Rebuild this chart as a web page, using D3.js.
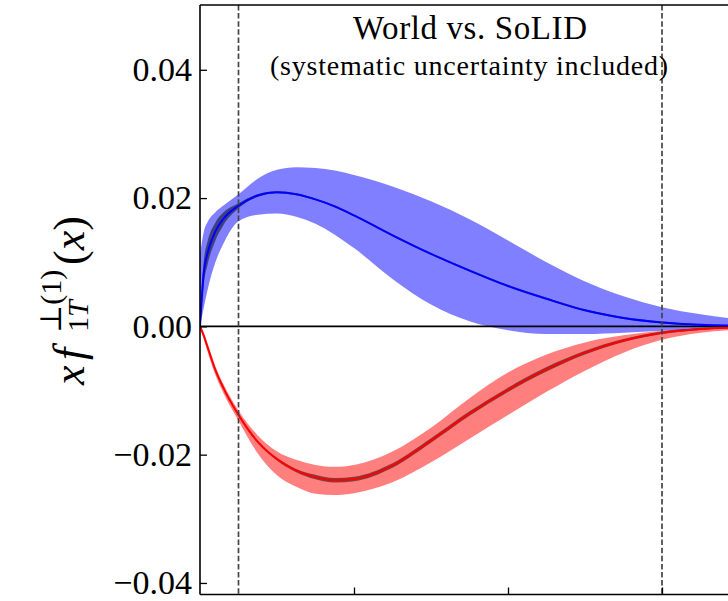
<!DOCTYPE html>
<html>
<head>
<meta charset="utf-8">
<script src="https://cdn.jsdelivr.net/npm/d3@7"></script>
<style>
  html, body { margin: 0; padding: 0; background: #fff; }
  svg { display: block; }
</style>
</head>
<body>
<div id="chart"></div>
<script>
// x grid shared by every curve
const xGrid = [0, 0.005, 0.01, 0.02, 0.03, 0.05, 0.075, 0.1, 0.125, 0.15, 0.175, 0.2,
  0.25, 0.3, 0.35, 0.4, 0.45, 0.5, 0.55, 0.6, 0.65, 0.7, 0.75];

// positive curve (blue): central value, world band edges, SoLID half-width
const posMid = [0, 0.0085, 0.0115, 0.0148, 0.0167, 0.0188, 0.0204, 0.0209, 0.0206, 0.0198, 0.0187, 0.0173,
  0.0142, 0.0113, 0.0087, 0.0063, 0.0043, 0.0025, 0.0013, 0.0006, 0.00025, 0.0001, 0.00005];
const posHi = [0.0112, 0.0148, 0.0163, 0.0178, 0.0188, 0.0206, 0.0230, 0.0244, 0.0248, 0.0247, 0.0243, 0.0236,
  0.0218, 0.0195, 0.0167, 0.0134, 0.0100, 0.0070, 0.0047, 0.0030, 0.0019, 0.0011, 0.0006];
const posLo = [0, 0.0030, 0.0058, 0.0100, 0.0128, 0.0164, 0.0174, 0.0176, 0.0171, 0.0160, 0.0143, 0.0122,
  0.0074, 0.0034, 0.0008, -0.0006, -0.0012, -0.0012, -0.0010, -0.0007, -0.0005, -0.0003, -0.0002];
const posSolid = [0.0008, 0.0018, 0.0018, 0.0014, 0.0010, 0.0004, 0.0002, 0.00015, 0.00015, 0.00015, 0.00015, 0.00015,
  0.00015, 0.00015, 0.00015, 0.00015, 0.00015, 0.00015, 0.00015, 0.00015, 0.0001, 0.0001, 0.0001];

// negative curve (red)
const negMid = [0, -0.0015, -0.0033, -0.0068, -0.0095, -0.0138, -0.0180, -0.0207, -0.0225, -0.0235, -0.0240, -0.0238,
  -0.0217, -0.0178, -0.0136, -0.0099, -0.0067, -0.0041, -0.0022, -0.0010, -0.0004, -0.00015, -0.00005];
const negHi = [0, -0.0010, -0.0027, -0.0062, -0.0089, -0.0131, -0.0170, -0.0195, -0.0208, -0.0216, -0.0219, -0.0216,
  -0.0195, -0.0158, -0.0112, -0.0072, -0.0044, -0.0025, -0.0014, -0.0007, -0.0003, -0.0001, 0];
const negLo = [0, -0.0020, -0.0040, -0.0076, -0.0103, -0.0147, -0.0198, -0.0232, -0.0250, -0.0261, -0.0263, -0.0260,
  -0.0243, -0.0212, -0.0175, -0.0138, -0.0102, -0.0069, -0.0041, -0.0021, -0.0010, -0.0005, -0.0003];
const negSolid = [0.0001, 0.00015, 0.00015, 0.00015, 0.00015, 0.00015, 0.00015, 0.0002, 0.00025, 0.00035, 0.00035, 0.00035,
  0.00035, 0.00035, 0.00035, 0.00035, 0.00035, 0.0003, 0.00025, 0.0002, 0.00015, 0.0001, 0.0001];

const yTicks = [-0.04, -0.02, 0, 0.02, 0.04];
const xTicks = [0.2, 0.4, 0.6];
const solidRange = [0.05, 0.6];

const title = 'World vs. SoLID';
const subtitle = '(systematic uncertainty included)';

(function () {
  const width = 728;
  const height = 601;
  const left = 200;
  const top = 5;
  const bottom = 594.5;
  const serif = '"Liberation Serif", "DejaVu Serif", serif';

  const x = d3.scaleLinear().domain([0, 1]).range([left, 970]);
  const y = d3.scaleLinear().domain([-0.0418, 0.0501]).range([bottom, top]);

  const svg = d3.select('#chart')
    .append('svg')
    .attr('width', width)
    .attr('height', height)
    .style('background', '#fff');

  svg.append('defs').append('clipPath')
    .attr('id', 'plot-clip')
    .append('rect')
    .attr('x', left)
    .attr('y', top)
    .attr('width', 970 - left)
    .attr('height', bottom - top);

  const rows = xGrid.map((v, i) => ({
    x: v,
    pMid: posMid[i], pHi: posHi[i], pLo: posLo[i], pErr: posSolid[i],
    nMid: negMid[i], nHi: negHi[i], nLo: negLo[i], nErr: negSolid[i]
  }));

  const band = (lo, hi) => d3.area()
    .x(d => x(d.x))
    .y0(d => y(lo(d)))
    .y1(d => y(hi(d)))
    .curve(d3.curveMonotoneX);

  const curve = (f) => d3.line()
    .x(d => x(d.x))
    .y(d => y(f(d)))
    .curve(d3.curveMonotoneX);

  const plot = svg.append('g').attr('clip-path', 'url(#plot-clip)');

  // world bands
  plot.append('path')
    .attr('d', band(d => d.pLo, d => d.pHi)(rows))
    .attr('fill', 'blue')
    .attr('fill-opacity', 0.5);

  plot.append('path')
    .attr('d', band(d => d.nLo, d => d.nHi)(rows))
    .attr('fill', 'red')
    .attr('fill-opacity', 0.5);

  // zero line
  plot.append('line')
    .attr('x1', left).attr('x2', 970)
    .attr('y1', y(0)).attr('y2', y(0))
    .attr('stroke', '#000')
    .attr('stroke-width', 1.6);

  // SoLID projected bands
  plot.append('path')
    .attr('d', band(d => d.pMid - d.pErr, d => d.pMid + d.pErr)(rows))
    .attr('fill', '#000')
    .attr('fill-opacity', 0.5);

  plot.append('path')
    .attr('d', band(d => d.nMid - d.nErr, d => d.nMid + d.nErr)(rows))
    .attr('fill', '#000')
    .attr('fill-opacity', 0.5);

  // central curves
  plot.append('path')
    .attr('d', curve(d => d.pMid)(rows))
    .attr('fill', 'none')
    .attr('stroke', 'blue')
    .attr('stroke-width', 2);

  plot.append('path')
    .attr('d', curve(d => d.nMid)(rows))
    .attr('fill', 'none')
    .attr('stroke', 'red')
    .attr('stroke-width', 2);

  // SoLID kinematic range
  plot.selectAll('line.range')
    .data(solidRange)
    .enter()
    .append('line')
    .attr('class', 'range')
    .attr('x1', d => x(d)).attr('x2', d => x(d))
    .attr('y1', top).attr('y2', bottom)
    .attr('stroke', '#444')
    .attr('stroke-width', 1.7)
    .attr('stroke-dasharray', '5.5,2.6');

  // axes, ticks pointing inward
  const yAxis = svg.append('g')
    .attr('transform', `translate(${left},0)`)
    .call(d3.axisLeft(y).tickValues(yTicks).tickSize(-7).tickPadding(8).tickFormat(d3.format('.2f')));

  const xAxis = svg.append('g')
    .attr('transform', `translate(0,${bottom})`)
    .call(d3.axisBottom(x).tickValues(xTicks).tickSize(-7).tickFormat(''));

  [yAxis, xAxis].forEach(g => {
    g.select('.domain').remove();
    g.selectAll('.tick line').attr('stroke', '#000').attr('stroke-width', 1.3);
  });

  yAxis.selectAll('.tick text')
    .attr('font-family', serif)
    .attr('font-size', 34)
    .attr('fill', '#000');

  // spines
  const spine = svg.append('g').attr('stroke', '#000').attr('stroke-width', 1.6);
  spine.append('line').attr('x1', left).attr('x2', left).attr('y1', top).attr('y2', bottom);
  spine.append('line').attr('x1', left).attr('x2', width).attr('y1', top).attr('y2', top);
  spine.append('line').attr('x1', left).attr('x2', width).attr('y1', bottom).attr('y2', bottom);

  // titles
  svg.append('text')
    .attr('x', 470)
    .attr('y', 38.5)
    .attr('text-anchor', 'middle')
    .attr('font-family', serif)
    .attr('font-size', 33)
    .attr('textLength', 234)
    .text(title);

  svg.append('text')
    .attr('x', 469)
    .attr('y', 75)
    .attr('text-anchor', 'middle')
    .attr('font-family', serif)
    .attr('font-size', 28)
    .attr('textLength', 398)
    .text(subtitle);

  // y label: x f_{1T}^{⊥(1)}(x)
  const lab = svg.append('g')
    .attr('transform', 'translate(84,300) rotate(-90)')
    .attr('font-family', serif)
    .attr('font-size', 44)
    .attr('fill', '#000');

  lab.append('text').attr('x', -85).attr('font-style', 'italic').text('x');
  lab.append('text').attr('x', -60).attr('font-style', 'italic').text('f');

  const sup = lab.append('text').attr('x', -33).attr('y', -23).attr('font-size', 30);
  sup.append('tspan').text('⊥(1)');

  const sub = lab.append('text').attr('x', -32).attr('y', 4).attr('font-size', 30);
  sub.append('tspan').text('1');
  sub.append('tspan').attr('font-style', 'italic').text('T');

  const arg = lab.append('text').attr('x', 35);
  arg.append('tspan').text('(');
  arg.append('tspan').attr('font-style', 'italic').text('x');
  arg.append('tspan').text(')');
})();
</script>
</body>
</html>
